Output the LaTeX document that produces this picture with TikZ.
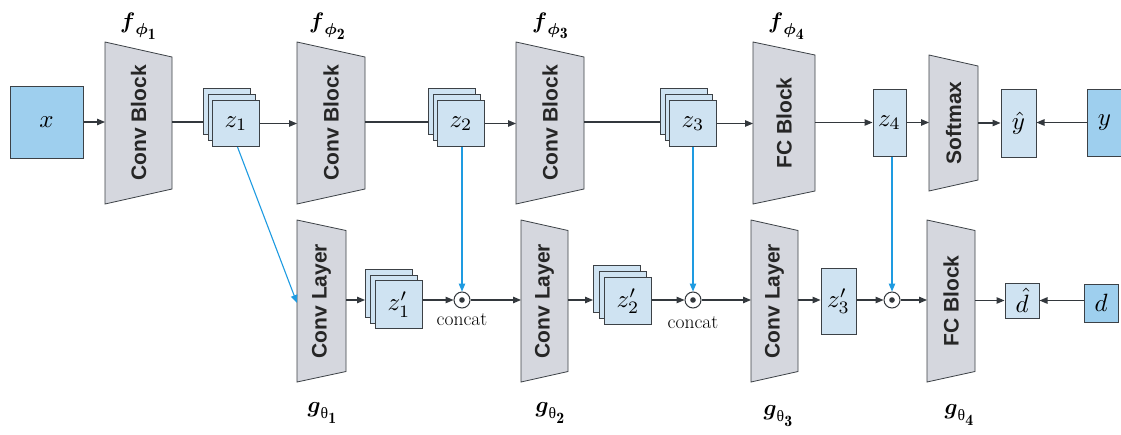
\documentclass[tikz,border=0pt]{standalone}
\usepackage{amsmath}
\usepackage{graphicx}
\usepackage{fontspec}
\newfontfamily\blockfont{Liberation Sans}
\newfontfamily\grkfont{Liberation Serif}
\usetikzlibrary{arrows.meta}

\definecolor{inblue}{HTML}{9ECFEE}
\definecolor{zblue}{HTML}{CFE3F2}
\definecolor{blkgray}{HTML}{D5D7DE}
\definecolor{edgegray}{HTML}{3C4146}
\definecolor{linegray}{HTML}{33383D}
\definecolor{skipblue}{HTML}{1E9BE1}

\tikzset{
  blk/.style={fill=blkgray, draw=edgegray, line width=0.8pt},
  anchorbox/.style={inner sep=0pt, outer sep=0pt},
  blktext/.style={font=\blockfont\bfseries\fontsize{21}{24}\selectfont, rotate=90, text=black!85},
  inbox/.style={draw=edgegray, fill=inblue, line width=1pt, inner sep=0pt},
  zbox/.style={draw=edgegray, fill=zblue, line width=1pt, inner sep=0pt},
  odot/.style={circle, draw=linegray, fill=white, line width=1pt,
               minimum size=16pt, inner sep=0pt},
  arr/.style={draw=linegray, line width=1.1pt, -{Triangle[length=8pt,width=6.5pt]}},
  plain/.style={draw=linegray, line width=1.1pt},
  skip/.style={draw=skipblue, line width=1.1pt, -{Triangle[length=8pt,width=6.5pt]}},
  catlabel/.style={font=\fontsize{19.5}{22}\selectfont},
}

% enlarged math
\newcommand\mth[1]{\scalebox{2.5}{$#1$}}

% trapezoid block: name, left x, right x, centre y, left height, right height, text
\newcommand\trapblock[7]{%
  \path[blk] (#2,#4-#5/2) -- (#3,#4-#6/2) -- (#3,#4+#6/2) -- (#2,#4+#5/2) -- cycle;
  \node[anchorbox, minimum width={(#3-#2)*1pt}, minimum height={#6*1pt}]
    (#1) at ({(#2+#3)/2},#4) {};
  \node[blktext] at (#1) {#7};
}

% stack of three feature maps: name, front left x, front top y, width, height, dx, dy, label
\newcommand\zstack[8]{%
  \node[zbox, minimum width=#4pt, minimum height=#5pt, anchor=north west]
    (#1b) at (#2-2*#6,#3-2*#7) {};
  \node[zbox, minimum width=#4pt, minimum height=#5pt, anchor=north west]
    (#1m) at (#2-#6,#3-#7) {};
  \node[zbox, minimum width=#4pt, minimum height=#5pt, anchor=north west]
    (#1) at (#2,#3) {#8};
}

\newcommand\flab[1]{\scalebox{2.25}{$\boldsymbol{f}_{\boldsymbol{\phi}_{\scriptstyle\mathbf{#1}}}$}}
\newcommand\glab[1]{\scalebox{2.25}{$\boldsymbol{g}_{\text{\grkfont θ}_{\scriptstyle\mathbf{#1}}}$}}

\begin{document}
\begin{tikzpicture}[x=1pt, y=-1pt]
  \useasboundingbox[fill=white] (0,0) rectangle (1121,434);

  % ---------- upper branch ----------
  \node[inbox, minimum width=73pt, minimum height=72pt] (x) at (46.5,122) {\mth{x}};
  \trapblock{cb1}{105}{172}{123}{162}{132}{Conv Block}
  \zstack{z1}{212}{100}{47}{46}{4.5}{6}{\mth{z_1}}
  \trapblock{cb2}{297}{365}{123}{162}{132}{Conv Block}
  \zstack{z2}{437}{100}{47}{46}{4.5}{6}{\mth{z_2}}
  \trapblock{cb3}{516}{584}{123}{162}{132}{Conv Block}
  \zstack{z3}{669}{100}{47}{46}{4.5}{6}{\mth{z_3}}
  \trapblock{fc1}{753}{815}{123}{162}{136}{FC Block}
  \node[zbox, minimum width=33pt, minimum height=67pt] (z4) at (889.5,122.5) {\mth{z_4}};
  \trapblock{sm}{929}{978}{123}{136}{114}{Softmax}
  \node[zbox, minimum width=35pt, minimum height=68pt] (yhat) at (1018.5,123) {\mth{\hat{y}}};
  \node[inbox, minimum width=40pt, minimum height=67pt, anchor=west] (y) at (1087,122.5) {\hspace*{-6pt}\mth{y}};

  \node (f1) at (139,26) {\flab{1}};
  \node (f2) at (328,26) {\flab{2}};
  \node (f3) at (551,26) {\flab{3}};
  \node (f4) at (787,26) {\flab{4}};

  % ---------- lower branch ----------
  \trapblock{cl1}{297}{346}{301}{162}{141}{Conv Layer}
  \zstack{z1p}{375}{280}{47}{48}{5}{5.5}{\mth{z'_1}}
  \node[odot] (o1) at (462,300) {};
  \trapblock{cl2}{521}{568}{301}{162}{141}{Conv Layer}
  \zstack{z2p}{604}{277}{47}{47}{5.5}{6}{\mth{z'_2}}
  \node[odot] (o2) at (693,300) {};
  \trapblock{cl3}{751}{798}{301}{162}{141}{Conv Layer}
  \node[zbox, minimum width=35pt, minimum height=66pt] (z3p) at (838.5,301) {\mth{z'_3}};
  \node[odot] (o3) at (892,300) {};
  \trapblock{fc2}{927}{975}{301}{162}{141}{FC Block}
  \node[zbox, minimum width=34pt, minimum height=35pt] (dhat) at (1022,300.5) {\mth{\hat{d}}};
  \node[inbox, minimum width=34pt, minimum height=38pt] (d) at (1101,303) {\mth{d}};

  \foreach \o in {o1,o2,o3}{\fill[linegray] (\o) circle (2.8pt);}

  \node[catlabel] (c1) at (462,320) {concat};
  \node[catlabel] (c2) at (693,323) {concat};

  \node (g1) at (323,413) {\glab{1}};
  \node (g2) at (551,413) {\glab{2}};
  \node (g3) at (779,416) {\glab{3}};
  \node (g4) at (960,415) {\glab{4}};

  % ---------- connectors, upper ----------
  \draw[arr] (x.east) -- (x.east -| cb1.west);
  \draw[plain] (cb1.east |- x) -- (x -| z1b.west);
  \draw[arr] (z1.east) -- (z1.east -| cb2.west);
  \draw[plain] (cb2.east |- x) -- (x -| z2b.west);
  \draw[arr] (z2.east) -- (z2.east -| cb3.west);
  \draw[plain] (cb3.east |- x) -- (x -| z3b.west);
  \draw[arr] (z3.east) -- (z3.east -| fc1.west);
  \draw[arr] (fc1.east |- z4) -- (z4.west);
  \draw[arr] (z4.east) -- (z4 -| sm.west);
  \draw[arr] (sm.east |- yhat) -- (yhat.west);
  \draw[arr] (y.west) -- (y -| yhat.east);

  % ---------- connectors, lower ----------
  \draw[arr] (cl1.east |- o1) -- (o1 -| z1pb.west);
  \draw[arr] (o1 -| z1p.east) -- (o1.west);
  \draw[arr] (o1.east) -- (o1 -| cl2.west);
  \draw[arr] (cl2.east |- o2) -- (o2 -| z2pb.west);
  \draw[arr] (o2 -| z2p.east) -- (o2.west);
  \draw[arr] (o2.east) -- (o2 -| cl3.west);
  \draw[arr] (cl3.east |- o3) -- (o3 -| z3p.west);
  \draw[arr] (o3 -| z3p.east) -- (o3.west);
  \draw[arr] (o3.east) -- (o3 -| fc2.west);
  \draw[arr] (fc2.east |- dhat) -- (dhat.west);
  \draw[arr] (d.west |- dhat) -- (dhat.east);

  % ---------- skip connections ----------
  \draw[skip] ([xshift=1.5pt]z1.south) -- ([yshift=-2pt]cl1.west);
  \draw[skip] (o1 |- z2.south) -- (o1.north);
  \draw[skip] (o2 |- z3.south) -- (o2.north);
  \draw[skip] (o3 |- z4.south) -- (o3.north);
\end{tikzpicture}
\end{document}
